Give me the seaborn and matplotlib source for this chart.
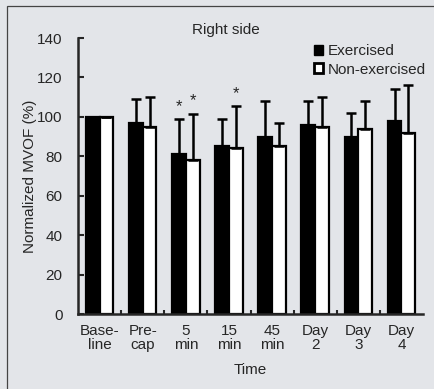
import matplotlib
matplotlib.use("Agg")
import matplotlib.pyplot as plt
import seaborn as sns
import pandas as pd
import numpy as np
from matplotlib.patches import Patch, Rectangle

categories = ["Base-\nline", "Pre-\ncap", "5\nmin", "15\nmin", "45\nmin", "Day\n2", "Day\n3", "Day\n4"]
exercised = [100, 97, 81, 85, 90, 96, 90, 98]
exercised_sd_top = [100, 109, 99, 99, 108, 108, 102, 114]
non_exercised = [100, 95, 78, 84, 85, 95, 94, 92]
non_exercised_sd_top = [100, 110, 101.5, 105.5, 97, 110, 108, 116]
stars_ex = [None, None, 105, None, None, None, None, None]
stars_non = [None, None, 108, 112, None, None, None, None]

sns.set_style("ticks")
plt.rcParams['font.family'] = ['Liberation Sans', 'DejaVu Sans']

bg = "#e3e5e9"
fs = 11
fig = plt.figure(figsize=(4.34, 3.89), dpi=100, facecolor=bg)
ax = fig.add_axes([78/434, 1-314/389, (423-78)/434, (314-38)/389])
ax.set_facecolor(bg)

df = pd.DataFrame({
    "Time": categories * 2,
    "value": exercised + non_exercised,
    "group": ["Exercised"] * 8 + ["Non-exercised"] * 8,
})
sns.barplot(data=df, x="Time", y="value", hue="group", order=categories,
            hue_order=["Exercised", "Non-exercised"],
            palette={"Exercised": "black", "Non-exercised": "white"},
            edgecolor="black", linewidth=1.6, width=0.64, errorbar=None,
            legend=False, ax=ax)

bars = [p for p in ax.patches if isinstance(p, Rectangle)]
ex_bars = bars[:8]
non_bars = bars[8:16]
for blist, vals, tops, stars in [(ex_bars, exercised, exercised_sd_top, stars_ex),
                                 (non_bars, non_exercised, non_exercised_sd_top, stars_non)]:
    xs = [b.get_x() + b.get_width() / 2 for b in blist]
    up = [t - v for t, v in zip(tops, vals)]
    lo = [0] * len(vals)
    ax.errorbar(xs, vals, yerr=[lo, up], fmt="none", ecolor="black",
                elinewidth=1.8, capsize=3.5, capthick=1.8, zorder=1)
    for x, s in zip(xs, stars):
        if s is not None:
            ax.text(x, s, "*", ha="center", va="center", fontsize=12)

ax.set_xlim(-0.5, 7.5)
ax.set_ylim(0, 140)
ax.set_yticks(np.arange(0, 141, 20))
ax.set_xticks(range(8))
ax.set_xticklabels(categories, fontsize=fs, linespacing=1.0)
ax.set_xticks(np.arange(0.5, 7, 1), minor=True)
ax.tick_params(axis="x", which="major", length=0, pad=7)
ax.tick_params(axis="x", which="minor", length=3, direction="in", width=1.5)
ax.tick_params(axis="y", direction="in", length=4, width=1.5, labelsize=fs, pad=11)
for side in ["top", "right"]:
    ax.spines[side].set_visible(False)
for side in ["left", "bottom"]:
    ax.spines[side].set_linewidth(1.8)
ax.set_xlabel("Time", fontsize=fs, labelpad=8)
ax.set_ylabel("Normalized MVOF (%)", fontsize=fs, labelpad=0)

fig.text(226/434, 1-30/389, "Right side", ha="center", va="center", fontsize=fs)

handles = [Patch(facecolor="black", edgecolor="black", label="Exercised"),
           Patch(facecolor="white", edgecolor="black", linewidth=2, label="Non-exercised")]
leg = fig.legend(handles=handles, loc="upper left", bbox_to_anchor=(308/434, 1-38/389),
                 frameon=False, fontsize=fs, handlelength=0.6, handleheight=0.6,
                 handletextpad=0.3, labelspacing=0.3, borderaxespad=0)

fig.add_artist(Rectangle((7/434, -0.1), 1.2, 1.1 - 6/389, transform=fig.transFigure,
                         fill=False, edgecolor="#444444", linewidth=0.9))

fig.savefig("out.png", dpi=100, facecolor=bg)
